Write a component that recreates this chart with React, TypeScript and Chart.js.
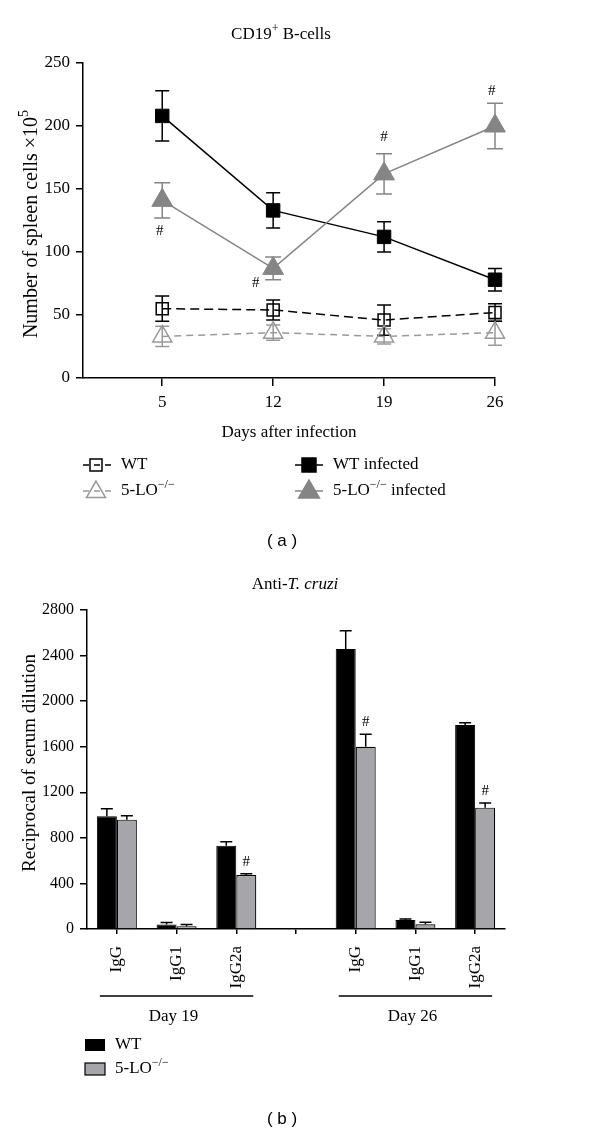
import React, { useEffect, useRef } from "react";
import { Chart, registerables } from "chart.js";

Chart.register(...registerables);

const SERIF = "'Liberation Serif', 'Times New Roman', serif";
const SANS = "'Liberation Sans', Arial, sans-serif";

// ---------- Panel (a) data ----------
const days = [5, 12, 19, 26];
const wtCells = [55, 54, 46, 52];
const wtCellsErr = [10, 8, 12, 7];
const loCells = [33, 36, 33, 36];
const loCellsErr = [8, 6, 6, 10];
const wtInfCells = [208, 133, 112, 78];
const wtInfCellsErr = [20, 14, 12, 9];
const loInfCells = [141, 87, 162, 200];
const loInfCellsErr = [14, 9, 16, 18];
const yTicksA = [0, 50, 100, 150, 200, 250];
const hashDaysA = [4.85, 10.9, 19, 25.8];
const hashValsA = [117, 75, 191, 228];

// ---------- Panel (b) data ----------
const isotypes = ["IgG", "IgG1", "IgG2a", "", "IgG", "IgG1", "IgG2a"];
const wtTiter = [990, 40, 731, null, 2458, 80, 1790];
const wtTiterErr = [65, 18, 35, null, 160, 8, 20];
const loTiter = [960, 24, 474, null, 1600, 42, 1065];
const loTiterErr = [35, 15, 10, null, 110, 18, 40];
const hashIdxB = [2, 4, 6];
const yTicksB = [0, 400, 800, 1200, 1600, 2000, 2400, 2800];
const groupLabels = ["Day 19", "Day 26"];
const groupStart = [0, 4];
const groupEnd = [2, 6];

const GREY = "#858585";
const GREY_LIGHT = "#999999";
const BAR_GREY = "#a6a6aa";

type Seg = { t: string; sup?: boolean; it?: boolean };

function drawRich(ctx: CanvasRenderingContext2D, segs: Seg[], x: number, y: number, size: number, align: string, color = "#000") {
  const fontOf = (s: Seg) => `${s.it ? "italic " : ""}${s.sup ? Math.round(size * 0.7) : size}px ${SERIF}`;
  let total = 0;
  const widths = segs.map((s) => {
    ctx.font = fontOf(s);
    const w = ctx.measureText(s.t).width;
    total += w;
    return w;
  });
  let cx = align === "center" ? x - total / 2 : x;
  ctx.save();
  ctx.fillStyle = color;
  ctx.textBaseline = "middle";
  ctx.textAlign = "left";
  segs.forEach((s, i) => {
    ctx.font = fontOf(s);
    ctx.fillText(s.t, cx, s.sup ? y - size * 0.36 : y);
    cx += widths[i];
  });
  ctx.restore();
}

function drawSquare(ctx: CanvasRenderingContext2D, x: number, y: number, side: number, fill: string | null, stroke: string) {
  ctx.save();
  ctx.beginPath();
  ctx.rect(x - side / 2, y - side / 2, side, side);
  if (fill) {
    ctx.fillStyle = fill;
    ctx.fill();
  }
  ctx.setLineDash([]);
  ctx.lineWidth = 1.5;
  ctx.strokeStyle = stroke;
  ctx.stroke();
  ctx.restore();
}

function drawTriangle(ctx: CanvasRenderingContext2D, x: number, y: number, r: number, fill: string | null, stroke: string) {
  ctx.save();
  ctx.beginPath();
  const a = (2 * Math.PI) / 3;
  ctx.moveTo(x, y - r);
  ctx.lineTo(x + Math.sin(a) * r, y - Math.cos(a) * r);
  ctx.lineTo(x + Math.sin(2 * a) * r, y - Math.cos(2 * a) * r);
  ctx.closePath();
  if (fill) {
    ctx.fillStyle = fill;
    ctx.fill();
  }
  ctx.setLineDash([]);
  ctx.lineWidth = 1.5;
  ctx.strokeStyle = stroke;
  ctx.stroke();
  ctx.restore();
}

function drawErrorBars(chart: any) {
  const ctx = chart.ctx;
  const ys = chart.scales.y;
  chart.data.datasets.forEach((ds: any, di: number) => {
    const errs = ds.errors;
    if (!errs) return;
    const meta = chart.getDatasetMeta(di);
    meta.data.forEach((el: any, i: number) => {
      const raw = ds.data[i];
      const v = raw == null ? null : typeof raw === "number" ? raw : raw.y;
      const e = errs[i];
      if (v == null || e == null) return;
      const px = el.x;
      const top = ys.getPixelForValue(v + e);
      const bot = ds.errUpOnly ? ys.getPixelForValue(v) : ys.getPixelForValue(v - e);
      const cap = ds.capHalf || 7;
      ctx.save();
      ctx.strokeStyle = ds.errColor || "#000";
      ctx.lineWidth = 1.5;
      ctx.setLineDash([]);
      ctx.beginPath();
      ctx.moveTo(px, top);
      ctx.lineTo(px, bot);
      ctx.moveTo(px - cap, top);
      ctx.lineTo(px + cap, top);
      if (!ds.errUpOnly) {
        ctx.moveTo(px - cap, bot);
        ctx.lineTo(px + cap, bot);
      }
      ctx.stroke();
      ctx.restore();
    });
  });
}

const panelADecor = {
  id: "panelADecor",
  beforeDatasetsDraw(chart: any) {
    drawErrorBars(chart);
  },
  afterDraw(chart: any) {
    const ctx = chart.ctx;
    const xs = chart.scales.x;
    const ys = chart.scales.y;
    // title
    drawRich(ctx, [{ t: "CD19" }, { t: "+", sup: true }, { t: " B-cells" }], 281, 35, 17, "center");
    // x axis title
    drawRich(ctx, [{ t: "Days after infection" }], 289, 433, 17, "center");
    // y axis title
    ctx.save();
    ctx.translate(32, 224);
    ctx.rotate(-Math.PI / 2);
    drawRich(ctx, [{ t: "Number of spleen cells \u00d710" }, { t: "5", sup: true }], 0, 0, 20, "center");
    ctx.restore();
    // hash marks
    ctx.save();
    ctx.fillStyle = "#000";
    ctx.font = `15px ${SERIF}`;
    ctx.textAlign = "center";
    ctx.textBaseline = "middle";
    hashDaysA.forEach((d, i) => {
      ctx.fillText("#", xs.getPixelForValue(d), ys.getPixelForValue(hashValsA[i]));
    });
    ctx.restore();
    // legend
    const rows = [465, 491];
    const entries = [
      { col: 0, row: 0, color: "#000", dash: [6, 5], shape: "rect", fill: null, label: [{ t: "WT" }] },
      { col: 0, row: 1, color: GREY_LIGHT, dash: [6, 5], shape: "tri", fill: null, label: [{ t: "5-LO" }, { t: "\u2212/\u2212", sup: true }] },
      { col: 1, row: 0, color: "#000", dash: [], shape: "rect", fill: "#000", label: [{ t: "WT infected" }] },
      { col: 1, row: 1, color: GREY, dash: [], shape: "tri", fill: GREY, label: [{ t: "5-LO" }, { t: "\u2212/\u2212", sup: true }, { t: " infected" }] },
    ];
    const cols = [
      { x0: 83, x1: 112, mx: 96, tx: 121 },
      { x0: 295, x1: 323, mx: 309, tx: 333 },
    ];
    entries.forEach((en) => {
      const c = cols[en.col];
      const y = rows[en.row];
      ctx.save();
      ctx.strokeStyle = en.color;
      ctx.lineWidth = 1.5;
      ctx.setLineDash(en.dash);
      ctx.beginPath();
      ctx.moveTo(c.x0, y);
      ctx.lineTo(c.x1, y);
      ctx.stroke();
      ctx.restore();
      if (en.shape === "rect") drawSquare(ctx, c.mx, y, en.fill ? 14 : 12, en.fill, en.color);
      else drawTriangle(ctx, c.mx, y + 1, en.fill ? 12 : 11, en.fill, en.color);
      drawRich(ctx, en.label as Seg[], c.tx, y, 17, "left");
    });
  },
};

const panelBDecor = {
  id: "panelBDecor",
  afterDatasetsDraw(chart: any) {
    drawErrorBars(chart);
  },
  afterDraw(chart: any) {
    const ctx = chart.ctx;
    const xs = chart.scales.x;
    const ys = chart.scales.y;
    drawRich(ctx, [{ t: "Anti-" }, { t: "T. cruzi", it: true }], 295, 25, 17, "center");
    ctx.save();
    ctx.translate(30, 203);
    ctx.rotate(-Math.PI / 2);
    drawRich(ctx, [{ t: "Reciprocal of serum dilution" }], 0, 0, 19, "center");
    ctx.restore();
    // hash marks above 5-LO bars
    const loMeta = chart.getDatasetMeta(1);
    ctx.save();
    ctx.fillStyle = "#000";
    ctx.font = `15px ${SERIF}`;
    ctx.textAlign = "center";
    ctx.textBaseline = "middle";
    hashIdxB.forEach((i) => {
      const el = loMeta.data[i];
      const top = ys.getPixelForValue((loTiter[i] as number) + (loTiterErr[i] as number));
      ctx.fillText("#", el.x, top - 12);
    });
    ctx.restore();
    // group lines
    groupLabels.forEach((lab, g) => {
      const a = xs.getPixelForValue(groupStart[g]) - 17;
      const b = xs.getPixelForValue(groupEnd[g]) + 17;
      ctx.save();
      ctx.strokeStyle = "#000";
      ctx.lineWidth = 1.5;
      ctx.beginPath();
      ctx.moveTo(a, 436);
      ctx.lineTo(b, 436);
      ctx.stroke();
      ctx.restore();
      drawRich(ctx, [{ t: lab }], (a + b) / 2 - 3, 457, 17, "center");
    });
    // legend
    ctx.save();
    ctx.lineWidth = 1.2;
    ctx.strokeStyle = "#000";
    ctx.fillStyle = "#000";
    ctx.fillRect(85, 479, 20, 12);
    ctx.fillStyle = BAR_GREY;
    ctx.fillRect(85, 503, 20, 12);
    ctx.strokeRect(85, 503, 20, 12);
    ctx.restore();
    drawRich(ctx, [{ t: "WT" }], 115, 485, 17, "left");
    drawRich(ctx, [{ t: "5-LO" }, { t: "\u2212/\u2212", sup: true }], 115, 509, 17, "left");
  },
};

const axisCommon = {
  grid: { drawOnChartArea: false, drawTicks: true, color: "#000", lineWidth: 1.5 },
  border: { display: true, color: "#000", width: 1.5 },
};

export default function App() {
  const refA = useRef<HTMLCanvasElement>(null);
  const refB = useRef<HTMLCanvasElement>(null);

  useEffect(() => {
    Chart.defaults.font.family = SERIF;
    Chart.defaults.color = "#000";
    const pts = (vals: number[]) => days.map((d, i) => ({ x: d, y: vals[i] }));

    const chartA = new Chart(refA.current as HTMLCanvasElement, {
      type: "line",
      data: {
        datasets: [
          {
            label: "5-LO",
            data: pts(loCells),
            errors: loCellsErr,
            errColor: GREY_LIGHT,
            capHalf: 7,
            borderColor: GREY_LIGHT,
            borderWidth: 1.5,
            borderDash: [7, 5],
            pointStyle: "triangle",
            pointRadius: 11,
            pointBackgroundColor: "rgba(0,0,0,0)",
            pointBorderColor: GREY_LIGHT,
            pointBorderWidth: 1.5,
            clip: false,
          },
          {
            label: "WT",
            data: pts(wtCells),
            errors: wtCellsErr,
            errColor: "#000",
            capHalf: 7,
            borderColor: "#000",
            borderWidth: 1.5,
            borderDash: [9, 5],
            pointStyle: "rect",
            pointRadius: 8.5,
            pointBackgroundColor: "rgba(0,0,0,0)",
            pointBorderColor: "#000",
            pointBorderWidth: 1.5,
            clip: false,
          },
          {
            label: "5-LO infected",
            data: pts(loInfCells),
            errors: loInfCellsErr,
            errColor: GREY,
            capHalf: 8,
            borderColor: GREY,
            borderWidth: 1.5,
            pointStyle: "triangle",
            pointRadius: 12,
            pointBackgroundColor: GREY,
            pointBorderColor: GREY,
            pointBorderWidth: 1,
            clip: false,
          },
          {
            label: "WT infected",
            data: pts(wtInfCells),
            errors: wtInfCellsErr,
            errColor: "#000",
            capHalf: 7,
            borderColor: "#000",
            borderWidth: 1.5,
            pointStyle: "rect",
            pointRadius: 9.5,
            pointBackgroundColor: "#000",
            pointBorderColor: "#000",
            pointBorderWidth: 1,
            clip: false,
          },
        ] as any,
      },
      options: {
        responsive: false,
        animation: false,
        events: [],
        layout: { padding: { top: 63, right: 105, left: 0, bottom: 0 } },
        plugins: { legend: { display: false }, tooltip: { enabled: false } },
        scales: {
          x: {
            type: "linear",
            min: 0,
            max: 26,
            afterBuildTicks: (s: any) => {
              s.ticks = days.map((v) => ({ value: v }));
            },
            afterFit: (s: any) => {
              s.height = 560 - 378;
            },
            ...axisCommon,
            grid: { ...axisCommon.grid, tickLength: 8 },
            ticks: { color: "#000", font: { size: 17, family: SERIF }, padding: 6, maxRotation: 0, callback: (v: any) => String(v) },
          },
          y: {
            min: 0,
            max: 250,
            afterBuildTicks: (s: any) => {
              s.ticks = yTicksA.map((v) => ({ value: v }));
            },
            afterFit: (s: any) => {
              s.width = 83;
            },
            ...axisCommon,
            grid: { ...axisCommon.grid, tickLength: 7 },
            ticks: { color: "#000", font: { size: 17, family: SERIF }, padding: 6, callback: (v: any) => String(v) },
          },
        },
      } as any,
      plugins: [panelADecor],
    });

    const chartB = new Chart(refB.current as HTMLCanvasElement, {
      type: "bar",
      data: {
        labels: isotypes,
        datasets: [
          {
            label: "WT",
            data: wtTiter,
            errors: wtTiterErr,
            errUpOnly: true,
            errColor: "#000",
            capHalf: 6,
            backgroundColor: "#000",
            borderColor: "#000",
            borderWidth: 1,
            categoryPercentage: 0.67,
            barPercentage: 1.0,
          },
          {
            label: "5-LO",
            data: loTiter,
            errors: loTiterErr,
            errUpOnly: true,
            errColor: "#000",
            capHalf: 6,
            backgroundColor: BAR_GREY,
            borderColor: "#000",
            borderWidth: 1.2,
            categoryPercentage: 0.67,
            barPercentage: 1.0,
          },
        ] as any,
      },
      options: {
        responsive: false,
        animation: false,
        events: [],
        layout: { padding: { top: 50, right: 95, left: 0, bottom: 0 } },
        plugins: { legend: { display: false }, tooltip: { enabled: false } },
        scales: {
          x: {
            type: "category",
            offset: true,
            afterFit: (s: any) => {
              s.height = 574 - 369;
            },
            ...axisCommon,
            grid: { ...axisCommon.grid, offset: false, tickLength: 5 },
            ticks: { color: "#000", font: { size: 17, family: SERIF }, padding: 12, minRotation: 90, maxRotation: 90, autoSkip: false },
          },
          y: {
            min: 0,
            max: 2800,
            afterBuildTicks: (s: any) => {
              s.ticks = yTicksB.map((v) => ({ value: v }));
            },
            afterFit: (s: any) => {
              s.width = 87;
            },
            ...axisCommon,
            grid: { ...axisCommon.grid, tickLength: 7 },
            ticks: { color: "#000", font: { size: 16, family: SERIF }, padding: 6, callback: (v: any) => String(v) },
          },
        },
      } as any,
      plugins: [panelBDecor],
    });

    return () => {
      chartA.destroy();
      chartB.destroy();
    };
  }, []);

  const caption: React.CSSProperties = {
    position: "absolute",
    left: 282,
    transform: "translate(-50%, -50%)",
    fontFamily: SANS,
    fontSize: 17,
    color: "#000",
    whiteSpace: "pre",
    lineHeight: 1,
  };

  return (
    <div style={{ position: "absolute", left: 0, top: 0, width: 600, height: 1134, background: "#fff" }}>
      <canvas ref={refA} width={600} height={560} style={{ position: "absolute", left: 0, top: 0, width: 600, height: 560 }} />
      <div style={{ ...caption, top: 540 }}>( a )</div>
      <canvas ref={refB} width={600} height={574} style={{ position: "absolute", left: 0, top: 560, width: 600, height: 574 }} />
      <div style={{ ...caption, top: 1118 }}>( b )</div>
    </div>
  );
}
